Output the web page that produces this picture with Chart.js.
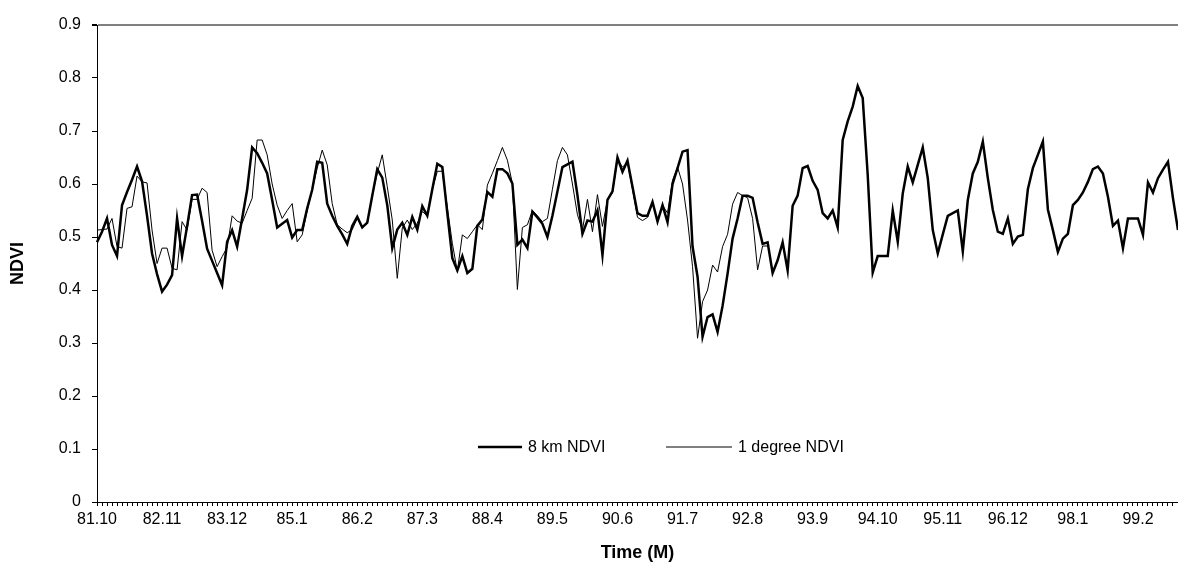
<!DOCTYPE html>
<html>
<head>
<meta charset="utf-8">
<script src="https://cdn.jsdelivr.net/npm/chart.js@4.4.1/dist/chart.umd.min.js"></script>
<style>
  html, body { margin: 0; padding: 0; background: #fff; }
  #wrap { width: 1178px; height: 586px; }
</style>
</head>
<body>
<div id="wrap"><canvas id="c" width="1178" height="586"></canvas></div>
<script>
// monthly categories, Oct 1981 onwards (year.month)
const months = [];
for (let k = 0; k < 217; k++) {
  const m = (9 + k) % 12 + 1;
  const y = 81 + Math.floor((9 + k) / 12);
  months.push(y + '.' + m);
}
const labelStep = 13;

const ndvi8km = [
  0.49, 0.51, 0.535, 0.485, 0.464, 0.560, 0.585, 0.608, 0.633, 0.605,
  0.54, 0.469, 0.43, 0.397, 0.41, 0.428, 0.535, 0.464, 0.52, 0.579,
  0.580, 0.53, 0.478, 0.455, 0.432, 0.409, 0.491, 0.513, 0.482, 0.535,
  0.589, 0.669, 0.658, 0.64, 0.62, 0.57, 0.518, 0.525, 0.532, 0.499,
  0.513, 0.513, 0.554, 0.589, 0.642, 0.64, 0.563, 0.54, 0.521, 0.505,
  0.487, 0.521, 0.538, 0.518, 0.527, 0.578, 0.628, 0.612, 0.56, 0.479,
  0.514, 0.527, 0.504, 0.538, 0.514, 0.558, 0.54, 0.59, 0.638, 0.632,
  0.545, 0.460, 0.437, 0.464, 0.432, 0.440, 0.521, 0.533, 0.585, 0.576,
  0.628, 0.628, 0.620, 0.601, 0.485, 0.495, 0.479, 0.548, 0.537, 0.525,
  0.500, 0.540, 0.586, 0.632, 0.637, 0.642, 0.579, 0.506, 0.531, 0.529,
  0.550, 0.466, 0.570, 0.586, 0.650, 0.623, 0.644, 0.595, 0.545, 0.540,
  0.540, 0.566, 0.529, 0.560, 0.528, 0.600, 0.630, 0.661, 0.664, 0.482,
  0.425, 0.312, 0.349, 0.354, 0.321, 0.37, 0.431, 0.497, 0.535, 0.578,
  0.578, 0.574, 0.528, 0.487, 0.490, 0.432, 0.456, 0.490, 0.437, 0.559,
  0.578, 0.630, 0.634, 0.606, 0.589, 0.545, 0.535, 0.550, 0.518, 0.683,
  0.718, 0.746, 0.785, 0.762, 0.617, 0.433, 0.464, 0.464, 0.464, 0.550,
  0.491, 0.582, 0.633, 0.603, 0.636, 0.669, 0.611, 0.513, 0.469, 0.505,
  0.540, 0.545, 0.550, 0.473, 0.570, 0.620, 0.642, 0.680, 0.611, 0.551,
  0.510, 0.506, 0.535, 0.487, 0.501, 0.504, 0.590, 0.630, 0.655, 0.680,
  0.552, 0.513, 0.472, 0.497, 0.506, 0.560, 0.570, 0.584, 0.604, 0.628,
  0.633, 0.620, 0.576, 0.521, 0.531, 0.479, 0.535, 0.535, 0.535, 0.504,
  0.603, 0.584, 0.611, 0.627, 0.642, 0.573, 0.513
];

const ndvi1deg = [
  0.513, 0.514, 0.515, 0.535, 0.482, 0.479, 0.554, 0.557, 0.615, 0.604,
  0.602, 0.513, 0.450, 0.479, 0.479, 0.441, 0.438, 0.529, 0.513, 0.571,
  0.571, 0.592, 0.584, 0.475, 0.444, 0.463, 0.48, 0.540, 0.53, 0.526,
  0.55, 0.573, 0.683, 0.683, 0.655, 0.60, 0.56, 0.535, 0.55, 0.563,
  0.491, 0.504, 0.55, 0.589, 0.63, 0.664, 0.636, 0.563, 0.523, 0.515,
  0.508, 0.514, 0.535, 0.52, 0.525, 0.58, 0.62, 0.655, 0.595, 0.532,
  0.422, 0.517, 0.532, 0.514, 0.526, 0.548, 0.540, 0.59, 0.624, 0.624,
  0.556, 0.488, 0.435, 0.504, 0.497, 0.510, 0.523, 0.514, 0.598, 0.62,
  0.644, 0.669, 0.645, 0.601, 0.401, 0.518, 0.523, 0.550, 0.54, 0.529,
  0.535, 0.59, 0.644, 0.669, 0.655, 0.60, 0.542, 0.513, 0.571, 0.510,
  0.58, 0.52, 0.57, 0.583, 0.646, 0.632, 0.64, 0.59, 0.537, 0.531,
  0.537, 0.566, 0.53, 0.56, 0.545, 0.607, 0.632, 0.60, 0.532, 0.444,
  0.309, 0.378, 0.400, 0.447, 0.434, 0.482, 0.505, 0.562, 0.584, 0.578,
  0.574, 0.535, 0.438, 0.483, 0.483
];

const yTicks = [0, 0.1, 0.2, 0.3, 0.4, 0.5, 0.6, 0.7, 0.8, 0.9];

const FONT = 'Liberation Sans, Arial, sans-serif';

const insideLegend = {
  id: 'insideLegend',
  afterDatasetsDraw(chart) {
    const { ctx, chartArea } = chart;
    const y = chartArea.top + 422;
    const items = [
      { x: 478, w: 44, ds: chart.data.datasets[0] },
      { x: 666, w: 66, ds: chart.data.datasets[1] }
    ];
    ctx.save();
    ctx.font = '16px ' + FONT;
    ctx.fillStyle = '#000';
    ctx.textBaseline = 'middle';
    items.forEach(it => {
      ctx.beginPath();
      ctx.strokeStyle = it.ds.borderColor;
      ctx.lineWidth = it.ds.borderWidth;
      ctx.moveTo(it.x, y);
      ctx.lineTo(it.x + it.w, y);
      ctx.stroke();
      ctx.fillText(it.ds.label, it.x + it.w + 6, y + 1);
    });
    ctx.restore();
  }
};

new Chart(document.getElementById('c'), {
  type: 'line',
  data: {
    labels: months,
    datasets: [
      {
        label: '8 km NDVI',
        data: ndvi8km,
        borderColor: '#000',
        borderWidth: 2.5,
        pointRadius: 0,
        tension: 0,
        fill: false
      },
      {
        label: '1 degree NDVI',
        data: ndvi1deg,
        borderColor: '#000',
        borderWidth: 1,
        pointRadius: 0,
        tension: 0,
        fill: false
      }
    ]
  },
  options: {
    responsive: false,
    animation: false,
    layout: { padding: { top: 25, right: 0, bottom: 0, left: 0 } },
    plugins: {
      legend: { display: false },
      tooltip: { enabled: false }
    },
    scales: {
      x: {
        type: 'category',
        offset: false,
        afterFit(scale) {
          scale.height = 84;
          scale.paddingRight = 0;
          scale.paddingLeft = 0;
        },
        border: { display: true, color: '#000', width: 1 },
        grid: {
          drawOnChartArea: false,
          drawTicks: true,
          tickLength: 4,
          color: '#000'
        },
        ticks: {
          autoSkip: false,
          maxRotation: 0,
          minRotation: 0,
          padding: 4,
          color: '#000',
          font: { family: FONT, size: 16 },
          callback(value, index) {
            return index % labelStep === 0 ? months[index] : '';
          }
        },
        title: {
          display: true,
          text: 'Time (M)',
          color: '#000',
          font: { family: FONT, size: 18, weight: 'bold' },
          padding: { top: 0, bottom: 22 }
        }
      },
      y: {
        min: 0,
        max: 0.9,
        afterFit(scale) { scale.width = 97; },
        afterBuildTicks(scale) { scale.ticks = yTicks.map(v => ({ value: v })); },
        border: { display: true, color: '#000', width: 1 },
        grid: {
          drawOnChartArea: true,
          drawTicks: true,
          tickLength: 5,
          tickColor: '#000',
          color(ctx) { return ctx.tick && ctx.tick.value === 0.9 ? '#808080' : 'rgba(0,0,0,0)'; },
          lineWidth(ctx) { return ctx.tick && ctx.tick.value === 0.9 ? 2 : 1; }
        },
        ticks: {
          padding: 11,
          color: '#000',
          font: { family: FONT, size: 16 },
          callback(value) { return value === 0 ? '0' : value.toFixed(1); }
        },
        title: {
          display: true,
          text: 'NDVI',
          color: '#000',
          font: { family: FONT, size: 18, weight: 'bold' },
          padding: { top: 7, bottom: 0 }
        }
      }
    }
  },
  plugins: [insideLegend]
});
</script>
</body>
</html>
